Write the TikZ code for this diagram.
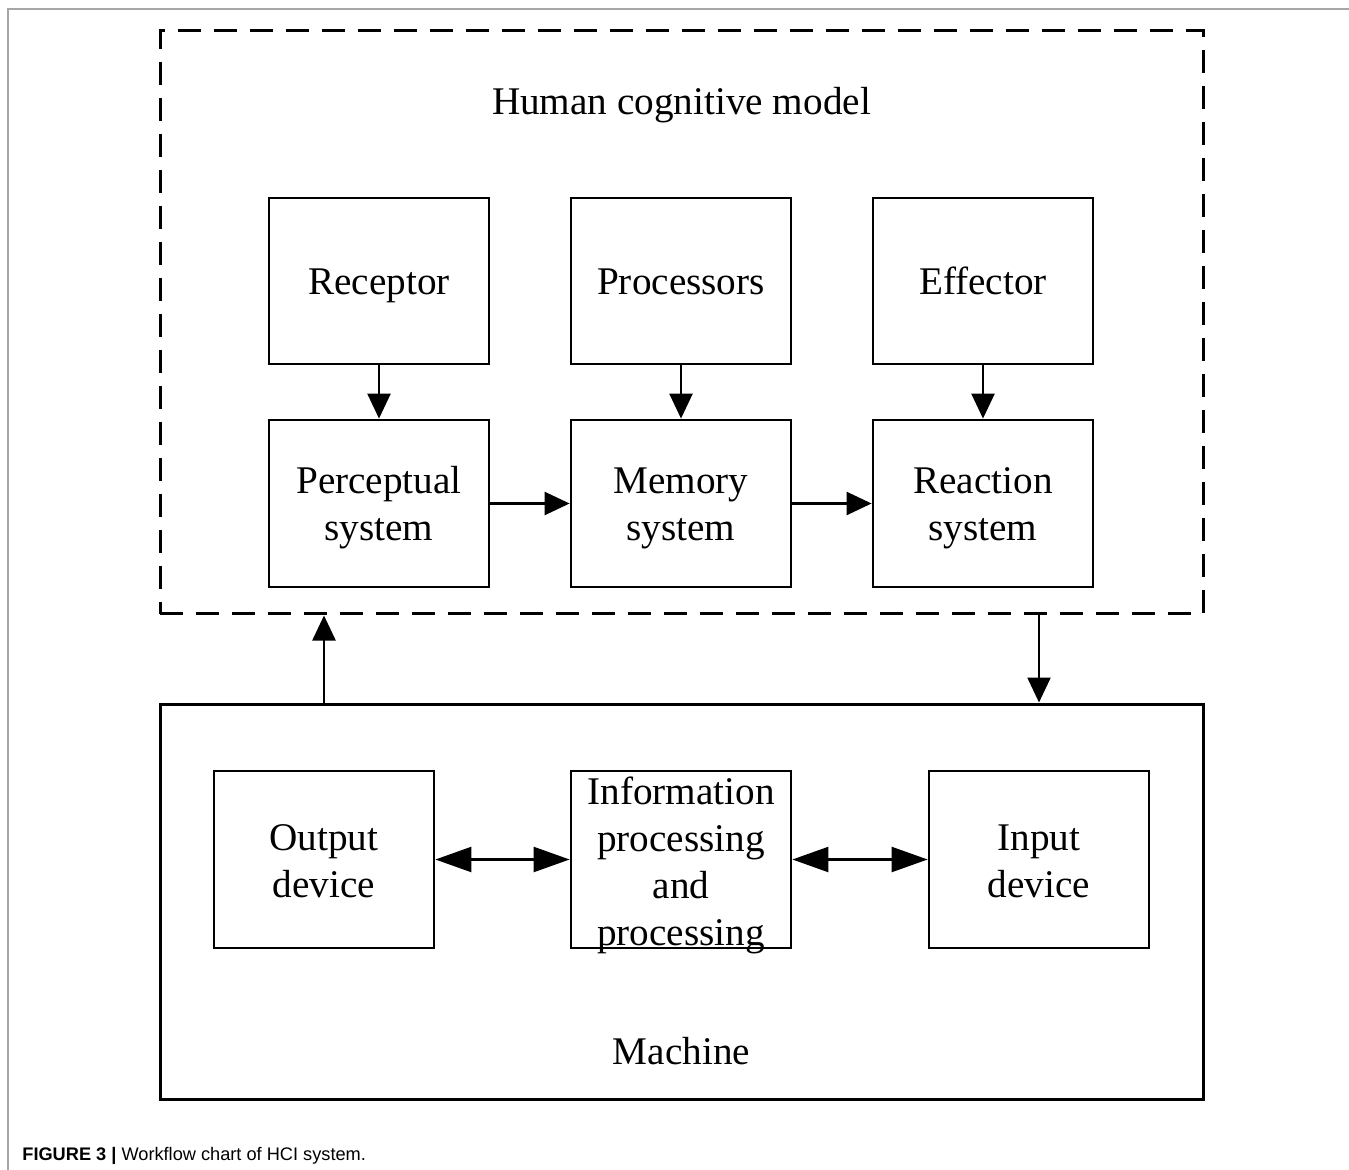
\documentclass[tikz,border=0pt]{standalone}
\usepackage{fontspec}
\setmainfont{Liberation Serif}
\newfontfamily\capfont{Liberation Sans}
\usetikzlibrary{arrows.meta}
\begin{document}
\begin{tikzpicture}[x=0.5pt,y=-0.5pt,
  box/.style={draw,line width=1.4pt,minimum width=110pt,inner sep=0pt,
    font=\fontsize{19.6}{23.5}\selectfont,align=center,text height=17pt,text depth=3pt},
  twoline/.style={text height=40.5pt},
  lbl/.style={font=\fontsize{19.6}{23.5}\selectfont,align=center,inner sep=0pt,text height=17pt,text depth=3pt},
  arr/.style={line width=1.2pt,-{Triangle[length=12.5pt,width=11.5pt]}},
  darr/.style={line width=1.2pt,{Triangle[length=18pt,width=12.5pt]}-{Triangle[length=18pt,width=12.5pt]}}]
\useasboundingbox (0,0) rectangle (1349,1170);
% outer frame
\draw[gray!70,line width=1pt] (8,1170) -- (8,9) -- (1349,9);
% containers
\node[draw,dashed,dash pattern=on 11.5pt off 6.5pt,line width=1.5pt,minimum width=521.5pt,minimum height=291.5pt,inner sep=0pt] (human) at (681.5,322.5) {};
\node[draw,line width=1.5pt,minimum width=521.5pt,minimum height=197.5pt,inner sep=0pt] (machine) at (681.5,901.5) {};
\node[lbl] (htitle) at (681.5,101) {Human cognitive model};
\node[lbl] (mtitle) at (681.5,1050) {Machine};
% top row
\node[box,minimum height=83pt] (rec) at (379,281) {Receptor};
\node[box,minimum height=83pt] (proc) at (681,281) {Processors};
\node[box,minimum height=83pt] (eff) at (983,281) {Effector};
% second row
\node[box,twoline,minimum height=83.5pt] (perc) at (379,503.5) {Perceptual\\system};
\node[box,twoline,minimum height=83.5pt] (mem) at (681,503.5) {Memory\\system};
\node[box,twoline,minimum height=83.5pt] (react) at (983,503.5) {Reaction\\system};
% bottom row
\node[box,twoline,minimum height=88.5pt] (out) at (324,859.5) {Output\\device};
\node[box,minimum height=88.5pt] (info) at (681,859.5) {};
\node[lbl,text height=87pt] (infotext) at (681,861) {Information\\processing\\and\\processing};
\node[box,twoline,minimum height=88.5pt] (inp) at (1039,859.5) {Input\\device};
% arrows
\draw[arr] (rec) -- (perc);
\draw[arr] (proc) -- (mem);
\draw[arr] (eff) -- (react);
\draw[arr] (perc) -- (mem);
\draw[arr] (mem) -- (react);
\draw[darr] (out) -- (info);
\draw[darr] (info) -- (inp);
\draw[arr] (out |- machine.north) -- (out |- human.south);
\draw[arr] (inp |- human.south) -- (inp |- machine.north);
% caption
\node[anchor=base west,inner sep=0pt,font=\capfont\fontsize{9.1}{11}\selectfont] (cap) at (22,1160) {\textbf{FIGURE 3 |} Workflow chart of HCI system.};
\end{tikzpicture}
\end{document}
